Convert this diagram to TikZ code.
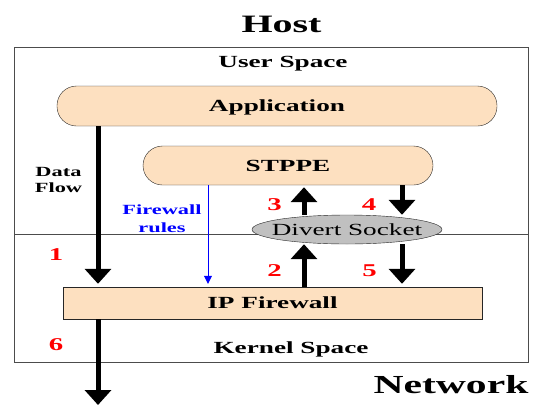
\documentclass[tikz,border=0pt]{standalone}
\usepackage{fontspec}
\setmainfont{Liberation Serif}[FakeStretch=1.6]
\usepackage{xcolor}
\usepackage{tikz}
\usetikzlibrary{arrows.meta}
\usetikzlibrary{shapes.geometric}

\definecolor{peach}{RGB}{253,224,192}
\definecolor{socketgray}{RGB}{192,192,192}

\begin{document}
\begin{tikzpicture}[
    x=1pt, y=-1pt,
    bigtext/.style={font=\bfseries\fontsize{25}{28}\selectfont},
    boxtext/.style={font=\bfseries\fontsize{17}{19}\selectfont},
    sidetext/.style={font=\bfseries\fontsize{14}{16}\selectfont, align=center},
    pill/.style={draw=black!85, fill=peach, rounded corners=19.5pt,
      minimum height=40pt, text height=11pt, text depth=0pt, boxtext},
    num/.style={text=red, font=\bfseries\fontsize{18}{20}\selectfont},
    flow/.style={line width=5pt, -{Triangle[width=26pt,length=15pt]}}]

    \useasboundingbox (0, 0) rectangle (533, 405);

    \node [bigtext, anchor=base] (host) at (281.5, 32) {Host};
    \draw [black!70] (14, 47) rectangle (528, 362);
    \draw [black!70] (14, 234) -- (528, 234);

    \node [boxtext, anchor=base] (user) at (283, 67) {User Space};
    \node [boxtext, anchor=base] (kernel) at (291, 353) {Kernel Space};
    \node [bigtext, anchor=base, font=\bfseries\fontsize{26}{28}\selectfont]
    (network) at (451, 393) {Network};

    \node [pill, minimum width=440pt] (app) at (277, 106) {Application};
    \node [pill, minimum width=290pt, minimum height=39pt] (stppe)
    at (288, 165.5) {STPPE};

    \node [draw=black!85, fill=socketgray, ellipse, minimum width=190pt,
    minimum height=29pt, inner xsep=-15pt, inner ysep=0pt,
    text height=11pt, text depth=0pt, font=\fontsize{17}{19}\selectfont]
    (divert) at (347, 229.5) {Divert Socket};

    \node [draw=black!85, fill=peach, minimum width=419pt, minimum height=32pt,
    text height=11pt, text depth=0pt, boxtext] (ipfw) at (272.5, 303) {IP Firewall};

    \node [sidetext, anchor=base] (dataflow) at (58.5, 192) {Data\\Flow};
    \node [sidetext, text=blue, anchor=base, font=\bfseries\fontsize{14}{18}\selectfont]
    (rules) at (162, 232) {Firewall\\rules};

    \coordinate (dfx) at (98, 0);
    \coordinate (frx) at (208, 0);
    \coordinate (upx) at (304, 0);
    \coordinate (dnx) at (402, 0);
    \coordinate (out) at (98, 405);

    \draw [flow, shorten >=3pt] (app.south -| dfx) -- (ipfw.north -| dfx);
    \draw [flow] (ipfw.south -| dfx) -- (out);
    \draw [flow] (ipfw.north -| upx) -- (divert.south -| upx);
    \draw [flow, shorten >=2pt] (divert.north -| upx) -- (stppe.south -| upx);
    \draw [flow] (stppe.south -| dnx) -- (divert.north -| dnx);
    \draw [flow, shorten >=3pt] (divert.south -| dnx) -- (ipfw.north -| dnx);
    \draw [blue, -{Triangle[width=8pt,length=8pt]}, shorten >=3pt]
    (stppe.south -| frx) -- (ipfw.north -| frx);

    \node [num] (n1) at (56, 255) {1};
    \node [num] (n2) at (274.5, 270.5) {2};
    \node [num] (n3) at (274.5, 205) {3};
    \node [num] (n4) at (369, 204.5) {4};
    \node [num] (n5) at (369.5, 270.5) {5};
    \node [num] (n6) at (56, 345) {6};

  \end{tikzpicture}
\end{document}
